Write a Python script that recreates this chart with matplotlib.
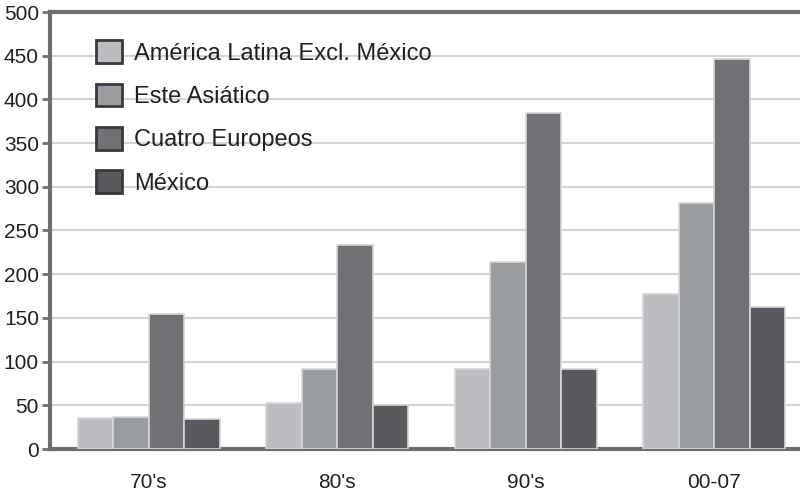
import matplotlib.pyplot as plt
from matplotlib.patches import Patch
import numpy as np

plt.rcParams['font.family'] = ['Liberation Sans', 'DejaVu Sans']

periods = ["70's", "80's", "90's", "00-07"]
series = ['América Latina Excl. México', 'Este Asiático', 'Cuatro Europeos', 'México']
latam = [36, 53, 92, 177]
este_asia = [37, 91, 214, 282]
europeos = [154, 233, 385, 446]
mexico = [34, 50, 91, 162]
colors = ['#bcbdc0', '#9a9d9f', '#707174', '#58595c']

values = [latam, este_asia, europeos, mexico]
x = np.arange(len(periods))
width = 0.188

fig = plt.figure(figsize=(8, 4.9), dpi=100)
ax = fig.add_axes([50 / 800, 1 - 449 / 490, 750 / 800, 437 / 490])

for i, (vals, c) in enumerate(zip(values, colors)):
    ax.bar(x + (i - 1.5) * width, vals, width, color=c, edgecolor='#d6d6d6',
           linewidth=1.2, zorder=3)

ax.set_ylim(0, 500)
ax.set_xlim(-0.525, 3.456)
ax.set_yticks(range(0, 501, 50))
ax.set_xticks(x)
ax.set_xticklabels(periods)
ax.yaxis.grid(True, color='#d4d4d4', linewidth=1.5, zorder=0)
ax.set_axisbelow(True)

grey = '#6d6e71'
for side in ['left', 'bottom', 'top']:
    ax.spines[side].set_color(grey)
    ax.spines[side].set_linewidth(3)
ax.spines['right'].set_visible(False)
ax.tick_params(axis='y', direction='out', length=6, width=2, color=grey,
               labelsize=15, labelcolor='#231f20', pad=2)
ax.tick_params(axis='x', length=0, labelsize=15, labelcolor='#231f20', pad=17)

handles = [Patch(facecolor=c, edgecolor='#3a3a3c', linewidth=2) for c in colors]
ax.legend(handles, series, loc='upper left', bbox_to_anchor=(0.046, 0.962),
          frameon=False, fontsize=17, handlelength=1.1, handleheight=1.1,
          handletextpad=0.5, labelspacing=0.8, borderpad=0, labelcolor='#231f20')

fig.savefig('out.png', dpi=100)
